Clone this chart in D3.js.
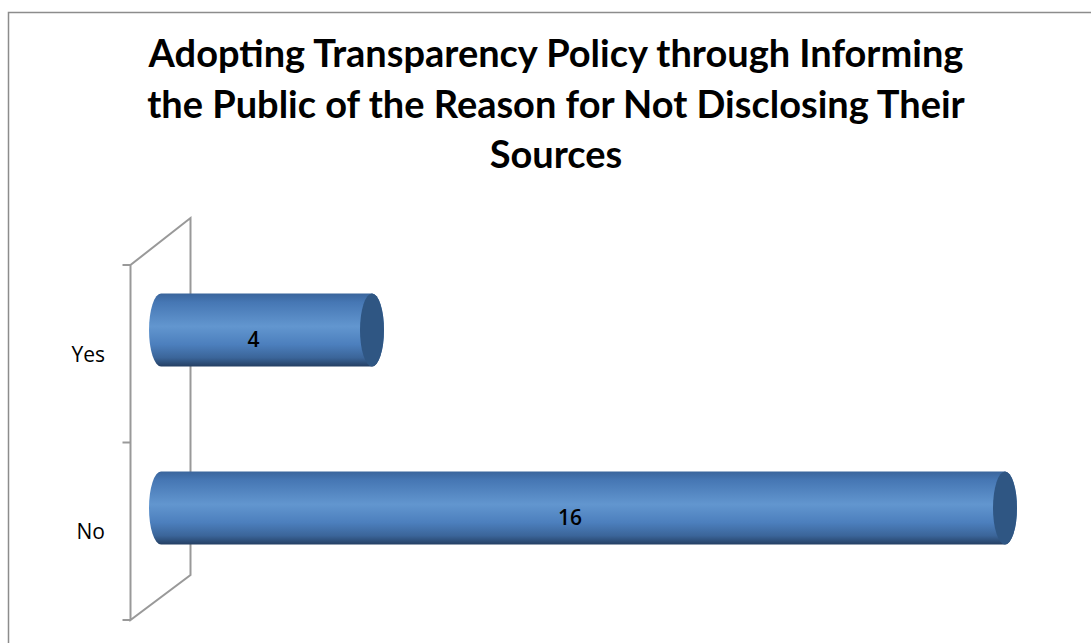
<!DOCTYPE html>
<html>
<head>
<meta charset="utf-8">
<script src="https://cdn.jsdelivr.net/npm/d3@7/dist/d3.min.js"></script>
<style>
  html, body { margin: 0; padding: 0; background: #fff; }
  svg { display: block; }
</style>
</head>
<body>
<svg id="chart" width="1091" height="643"></svg>
<script>
// Survey answers and counts
const categories = ["Yes", "No"];
const counts = [4, 16];
const titleLines = [
  "Adopting Transparency Policy through Informing",
  "the Public of the Reason for Not Disclosing Their",
  "Sources"
];

const W = 1091, H = 643;
const svg = d3.select("#chart");

// Chart frame
svg.append("rect")
  .attr("x", 8.5).attr("y", 12.5)
  .attr("width", W + 10).attr("height", H + 10)
  .attr("fill", "#fff")
  .attr("stroke", "#8c8c8c").attr("stroke-width", 1.5);

// Title, each line fitted to the same width
const titleFont = "Lato, 'Open Sans', sans-serif";
const titleG = svg.append("g");
const baselines = [67, 118, 168];
const fitWidth = 815;
let fontSize = 31;
const probe = titleG.append("text")
  .attr("font-family", titleFont).attr("font-weight", 700)
  .attr("font-size", fontSize).text(titleLines[0]);
const w0 = probe.node().getComputedTextLength();
probe.remove();
fontSize = fontSize * fitWidth / w0;
titleLines.forEach((line, i) => {
  titleG.append("text")
    .attr("x", 556).attr("y", baselines[i])
    .attr("text-anchor", "middle")
    .attr("font-family", titleFont).attr("font-weight", 700)
    .attr("font-size", fontSize).attr("fill", "#000")
    .text(line);
});

// Scales
const x = d3.scaleLinear().domain([0, 16]).range([161, 1005]);
// front edge of the category axis
const yFront = d3.scaleBand().domain(categories).range([265, 620]);
// bars sit in the middle depth of the 3-D box
const yBar = d3.scaleBand().domain(categories).range([241, 597])
  .paddingInner(0.59).paddingOuter(0.295);

// Depth offset of the back wall
const dx = 60, dy = -47;
const wallX = 130.5;

// Side wall (3-D category axis)
const wall = svg.append("g").attr("stroke", "#999").attr("stroke-width", 2).attr("fill", "none");
const yTop = yFront.range()[0], yBot = yFront.range()[1];
wall.append("path")
  .attr("d", `M${wallX},${yBot} L${wallX},${yTop} L${wallX + dx},${yTop + dy} L${wallX + dx},${yBot + dy + 2} Z`);

// Axis ticks at band boundaries
const tickYs = [yTop].concat(categories.map(c => yFront(c) + yFront.bandwidth()));
wall.selectAll("line.tick").data(tickYs).join("line")
  .attr("class", "tick")
  .attr("x1", wallX - 8).attr("x2", wallX)
  .attr("y1", d => d).attr("y2", d => d);

// Category labels
svg.append("g").selectAll("text").data(categories).join("text")
  .attr("x", 105)
  .attr("y", d => yFront(d) + yFront.bandwidth() / 2 + 8)
  .attr("text-anchor", "end")
  .attr("font-family", "'Open Sans', sans-serif")
  .attr("font-size", 21).attr("fill", "#000")
  .text(d => d);

// Cylinder shading
const defs = svg.append("defs");
const grad = defs.append("linearGradient")
  .attr("id", "cyl").attr("x1", 0).attr("x2", 0).attr("y1", 0).attr("y2", 1);
[
  [0, "#3a659c"], [0.12, "#4677b4"], [0.45, "#6296cf"],
  [0.7, "#4c7fbd"], [0.88, "#3b6599"], [1, "#243f63"]
].forEach(([o, c]) => grad.append("stop").attr("offset", o).attr("stop-color", c));

const rx = 12;
const bars = svg.append("g").selectAll("g").data(categories.map((c, i) => ({ c, v: counts[i] }))).join("g");

bars.append("path")
  .attr("fill", "url(#cyl)")
  .attr("d", d => {
    const y0 = yBar(d.c), h = yBar.bandwidth(), ry = h / 2;
    const xl = x(0), xr = x(d.v);
    return `M${xl},${y0} L${xr},${y0} A${rx},${ry} 0 0 1 ${xr},${y0 + h} L${xl},${y0 + h} A${rx},${ry} 0 0 1 ${xl},${y0} Z`;
  });

// End caps
bars.append("ellipse")
  .attr("cx", d => x(d.v))
  .attr("cy", d => yBar(d.c) + yBar.bandwidth() / 2)
  .attr("rx", rx)
  .attr("ry", yBar.bandwidth() / 2)
  .attr("fill", "#2f5683");

// Value labels
bars.append("text")
  .attr("x", d => (x(0) + x(d.v)) / 2 - 13)
  .attr("y", d => yBar(d.c) + yBar.bandwidth() / 2 + 17)
  .attr("text-anchor", "middle")
  .attr("font-family", "'Open Sans', sans-serif")
  .attr("font-weight", 600)
  .attr("font-size", 21).attr("fill", "#000")
  .text(d => d.v);
</script>
</body>
</html>
